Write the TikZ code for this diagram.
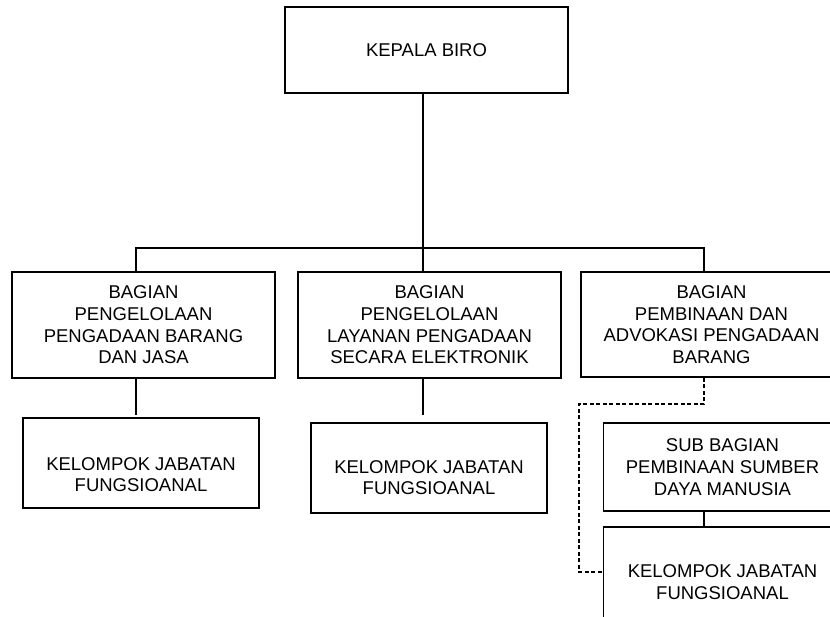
\documentclass[tikz,border=0pt]{standalone}
\usepackage{fontspec}
\setmainfont{Liberation Sans}
\newcommand\orgfont{\fontsize{18.5}{21.7}\selectfont}
\tikzset{
  orgbox/.style={draw, line width=1.7pt, inner sep=0pt, align=center, font=\orgfont},
  orgline/.style={line width=1.7pt},
  orgdash/.style={line width=1.4pt, dash pattern=on 4pt off 2.5pt},
  lowtext/.style={font=\orgfont, align=center, yshift=#1}
}
\begin{document}
\begin{tikzpicture}[x=1pt, y=-1pt]
\useasboundingbox (0,0) rectangle (830,617);
\clip (0,0) rectangle (830,617);
% head
\node[orgbox, minimum width=283pt, minimum height=86pt] (kb) at (426.5,50) {KEPALA BIRO};
% level 1
\node[orgbox, minimum width=263pt, minimum height=106pt] (b1) at (143.5,325)
  {BAGIAN\\PENGELOLAAN\\PENGADAAN BARANG\\DAN JASA};
\node[orgbox, minimum width=263pt, minimum height=106pt] (b2) at (429.5,325)
  {BAGIAN\\PENGELOLAAN\\LAYANAN PENGADAAN\\SECARA ELEKTRONIK};
\node[orgbox, minimum width=261pt, minimum height=105pt] (b3) at (711.5,324.5)
  {BAGIAN\\PEMBINAAN DAN\\ADVOKASI PENGADAAN\\BARANG};
% level 2
\node[orgbox, minimum width=236pt, minimum height=90pt,
  label={[lowtext=-11.5pt]center:{KELOMPOK JABATAN\\FUNGSIOANAL}}] (c1) at (141,463) {};
\node[orgbox, minimum width=236pt, minimum height=90pt,
  label={[lowtext=-9.5pt]center:{KELOMPOK JABATAN\\FUNGSIOANAL}}] (c2) at (429,468) {};
\node[orgbox, minimum width=238pt, minimum height=88pt] (s3) at (722.5,467)
  {SUB BAGIAN\\PEMBINAAN SUMBER\\DAYA MANUSIA};
\node[orgbox, minimum width=238pt, minimum height=96pt,
  label={[lowtext=-7pt]center:{KELOMPOK JABATAN\\FUNGSIOANAL}}] (k3) at (722.5,575) {};
% connector coordinates
\coordinate (busL) at (136,248);
\coordinate (busM) at (423,248);
\coordinate (busR) at (704,248);
\coordinate (e1) at (136,415);
\coordinate (e2) at (423,415);
\coordinate (d1) at (704,404);
\coordinate (d2) at (579,404);
\coordinate (d3) at (579,572);
% connectors
\draw[orgline] (kb.south -| busM) -- (busM);
\draw[orgline] (busL |- b1.north) -- (busL) -- (busR) -- (busR |- b3.north);
\draw[orgline] (busM) -- (busM |- b2.north);
\draw[orgline] (b1.south -| e1) -- (e1);
\draw[orgline] (b2.south -| e2) -- (e2);
\draw[orgline] (s3.south -| busR) -- (k3.north -| busR);
\draw[orgdash] (b3.south -| d1) -- (d1) -- (d2) -- (d3) -- (k3.west |- d3);
\end{tikzpicture}
\end{document}
